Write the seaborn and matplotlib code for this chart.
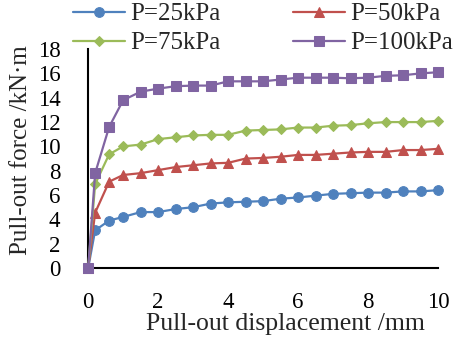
import matplotlib
matplotlib.use("Agg")
import matplotlib.pyplot as plt
import seaborn as sns
import pandas as pd

displacement = [0, 0.2, 0.6, 1.0, 1.5, 2.0, 2.5, 3.0, 3.5, 4.0, 4.5, 5.0,
                5.5, 6.0, 6.5, 7.0, 7.5, 8.0, 8.5, 9.0, 9.5, 10.0]
p25 = [0, 3.1, 3.9, 4.2, 4.6, 4.6, 4.85, 5.0, 5.3, 5.4, 5.45, 5.5,
       5.7, 5.8, 5.95, 6.1, 6.15, 6.2, 6.2, 6.3, 6.3, 6.4]
p50 = [0, 4.55, 7.1, 7.65, 7.8, 8.05, 8.3, 8.45, 8.6, 8.65, 9.0, 9.05,
       9.15, 9.3, 9.3, 9.4, 9.5, 9.55, 9.55, 9.7, 9.7, 9.8]
p75 = [0, 6.9, 9.35, 10.0, 10.15, 10.6, 10.75, 10.9, 10.95, 10.95, 11.3, 11.35,
       11.4, 11.55, 11.55, 11.7, 11.75, 11.9, 12.0, 12.0, 12.0, 12.1]
p100 = [0, 7.8, 11.6, 13.8, 14.5, 14.75, 14.95, 15.0, 15.0, 15.35, 15.35, 15.35,
        15.5, 15.65, 15.65, 15.65, 15.6, 15.65, 15.8, 15.85, 16.0, 16.1]
series_names = ["P=25kPa", "P=50kPa", "P=75kPa", "P=100kPa"]
series_values = [p25, p50, p75, p100]
x_ticks = [0, 2, 4, 6, 8, 10]
y_ticks = [0, 2, 4, 6, 8, 10, 12, 14, 16, 18]

rows = []
for name, vals in zip(series_names, series_values):
    for x, y in zip(displacement, vals):
        rows.append({"disp": x, "force": y, "series": name})
df = pd.DataFrame(rows)

sns.set_style("white")
plt.rcParams["font.family"] = ["Liberation Serif", "DejaVu Serif"]

fig = plt.figure(figsize=(4.64, 3.41), dpi=100)
ax = fig.add_axes([0.19, 0.214, 0.754, 0.642])

palette = {"P=25kPa": "#4F81BD", "P=50kPa": "#C0504D",
           "P=75kPa": "#9BBB59", "P=100kPa": "#8064A2"}
markers = {"P=25kPa": "o", "P=50kPa": "^", "P=75kPa": "D", "P=100kPa": "s"}
sizes = {"P=25kPa": 7, "P=50kPa": 7.5, "P=75kPa": 5.5, "P=100kPa": 7}

for name in series_names:
    sub = df[df["series"] == name]
    sns.lineplot(data=sub, x="disp", y="force", ax=ax, color=palette[name],
                 marker=markers[name], markersize=sizes[name],
                 markeredgecolor=palette[name], linewidth=1.6, label=name,
                 estimator=None, sort=False)

ax.set_xlim(0, 10)
ax.set_ylim(0, 18)
ax.set_xticks(x_ticks)
ax.set_yticks(y_ticks)
ax.set_xlabel("Pull-out displacement /mm", fontsize=18.5)
ax.set_ylabel("Pull-out force /kN·m", fontsize=18)
ax.xaxis.set_label_coords(0.563, -0.205)
ax.yaxis.set_label_coords(-0.16, 0.54)
ax.tick_params(axis="y", direction="in", length=5, width=1.5,
               labelsize=16.5, colors="black", pad=20)
ax.tick_params(axis="x", direction="in", length=6, width=1.5,
               labelsize=16.5, colors="black", pad=17)
for s in ["top", "right"]:
    ax.spines[s].set_visible(False)
for s in ["left", "bottom"]:
    ax.spines[s].set_color("black")
    ax.spines[s].set_linewidth(1.5)
for ln in ax.lines:
    ln.set_clip_on(False)
    ln.set_zorder(3)

handles, labels = ax.get_legend_handles_labels()
order = [0, 2, 1, 3]
ax.get_legend().remove()
fig.legend([handles[i] for i in order], [labels[i] for i in order],
           loc="upper left", bbox_to_anchor=(73 / 464, 1 - 3 / 341), ncol=2,
           frameon=False, fontsize=18, handlelength=2.08,
           handletextpad=0.2, columnspacing=2.9, labelspacing=0.25,
           borderpad=0, borderaxespad=0)
fig.savefig("out.png", dpi=100)
